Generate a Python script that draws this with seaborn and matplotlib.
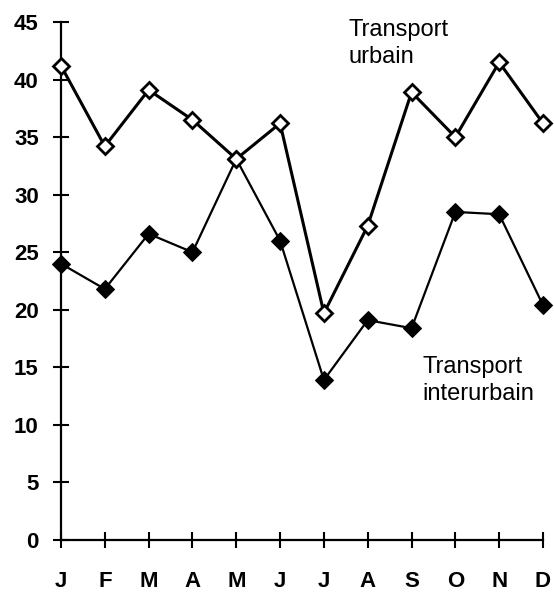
import pandas as pd
import matplotlib.pyplot as plt
import seaborn as sns

# data
months = ["J", "F", "M", "A", "M", "J", "J", "A", "S", "O", "N", "D"]
urbain = [41.2, 34.2, 39.1, 36.5, 33.1, 36.2, 19.7, 27.3, 38.9, 35.0, 41.5, 36.2]
interurbain = [24.0, 21.8, 26.6, 25.0, 33.1, 26.0, 13.9, 19.1, 18.4, 28.5, 28.3, 20.4]
y_ticks = list(range(0, 50, 5))

df = pd.DataFrame({
    "idx": list(range(len(months))) * 2,
    "valeur": urbain + interurbain,
    "serie": ["urbain"] * len(months) + ["interurbain"] * len(months),
})

sns.set_style("ticks")
plt.rcParams["font.family"] = ["Liberation Sans", "DejaVu Sans"]

fig = plt.figure(figsize=(5.54, 5.92), dpi=100)
ax = fig.add_axes([61 / 554, 1 - 540 / 592, (543 - 61) / 554, (540 - 22) / 592])

sns.lineplot(data=df[df["serie"] == "interurbain"], x="idx", y="valeur", ax=ax,
             color="black", linewidth=1.6, marker="D", markersize=9,
             markerfacecolor="black", markeredgecolor="black", clip_on=False, zorder=3)
sns.lineplot(data=df[df["serie"] == "urbain"], x="idx", y="valeur", ax=ax,
             color="black", linewidth=2.2, marker="D", markersize=8.5,
             markerfacecolor="white", markeredgecolor="black", markeredgewidth=2,
             clip_on=False, zorder=4)

ax.set_xlim(0, 11)
ax.set_ylim(0, 45)
ax.set_xticks(range(len(months)))
ax.set_xticklabels(months)
ax.set_yticks(y_ticks)
ax.set_xlabel("")
ax.set_ylabel("")

for side in ["top", "right"]:
    ax.spines[side].set_visible(False)
for side in ["left", "bottom"]:
    ax.spines[side].set_linewidth(1.6)
    ax.spines[side].set_color("black")

ax.tick_params(axis="both", direction="inout", length=12, width=1.5, color="black",
               labelsize=16, labelcolor="black", bottom=True, left=True)
ax.tick_params(axis="x", pad=16)
ax.tick_params(axis="y", pad=10)
for lab in ax.get_xticklabels() + ax.get_yticklabels():
    lab.set_fontweight("bold")

ax.text(6.57, 45.3, "Transport\nurbain", fontsize=17, va="top", ha="left",
        linespacing=1.3, color="black")
ax.text(8.24, 16.0, "Transport\ninterurbain", fontsize=17, va="top", ha="left",
        linespacing=1.3, color="black")

fig.savefig("out.png", dpi=100)
